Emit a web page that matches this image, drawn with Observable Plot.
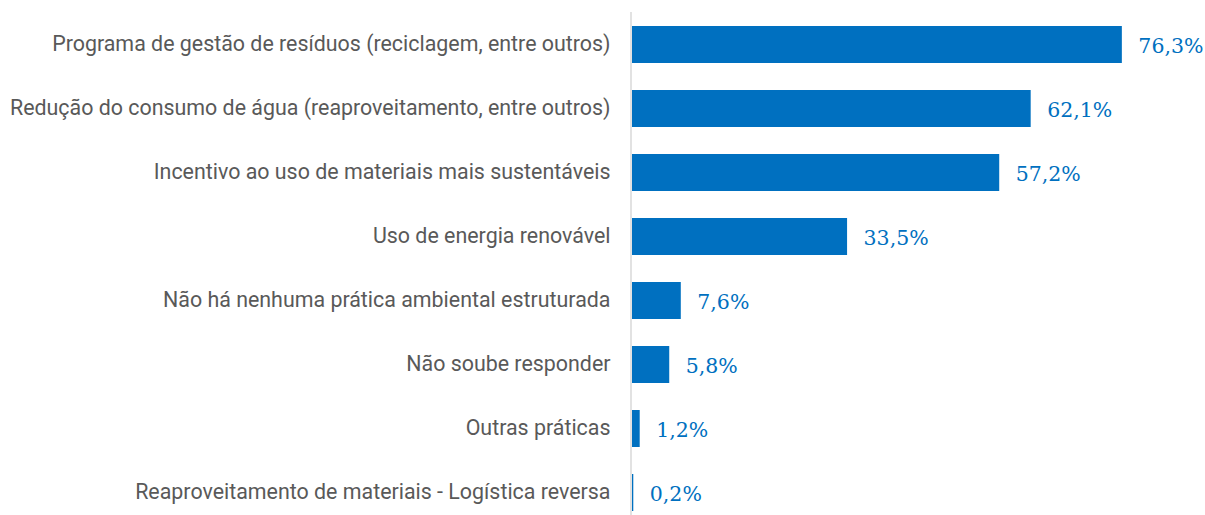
<!DOCTYPE html>
<html><head><meta charset="utf-8">
<script src="https://cdn.jsdelivr.net/npm/d3@7"></script>
<script src="https://cdn.jsdelivr.net/npm/@observablehq/plot@0.6"></script>
<style>body{margin:0;background:#fff}</style>
</head><body><div id="chart"></div>
<script>
const categories = [
  "Programa de gestão de resíduos (reciclagem, entre outros)",
  "Redução do consumo de água (reaproveitamento, entre outros)",
  "Incentivo ao uso de materiais mais sustentáveis",
  "Uso de energia renovável",
  "Não há nenhuma prática ambiental estruturada",
  "Não soube responder",
  "Outras práticas",
  "Reaproveitamento de materiais - Logística reversa"
];
const values = [76.3, 62.1, 57.2, 33.5, 7.6, 5.8, 1.2, 0.2];
const data = categories.map((c, i) => ({cat: c, v: values[i]}));
const fmt = v => v.toFixed(1).replace(".", ",") + "%";

const chart = Plot.plot({
  width: 1205, height: 515,
  marginLeft: 632, marginRight: 0, marginTop: 12, marginBottom: 0,
  x: {domain: [0, 88.6], range: [632, 632 + 88.6 * 6.42], axis: null},
  y: {domain: categories, range: [25, 513], paddingInner: 0.42, paddingOuter: 0, label: null},
  style: {fontFamily: "Roboto", fontSize: "21.4px", color: "#595959", overflow: "visible"},
  marks: [
    Plot.ruleX([0], {stroke: "#d9d9d9", strokeWidth: 1.5, dx: -1.5}),
    Plot.barX(data, {y: "cat", x: "v", fill: "#0070C0"}),
    Plot.axisY({tickSize: 0, tickPadding: 22, fontSize: 21.4, fill: "#595959", label: null, dy: -1}),
    Plot.text(data, {y: "cat", x: "v", text: d => fmt(d.v), dx: 16, dy: 1.5, textAnchor: "start",
      fill: "#0070C0", fontFamily: "DejaVu Serif", fontSize: 20.5})
  ]
});
document.getElementById("chart").append(chart);
</script></body></html>
